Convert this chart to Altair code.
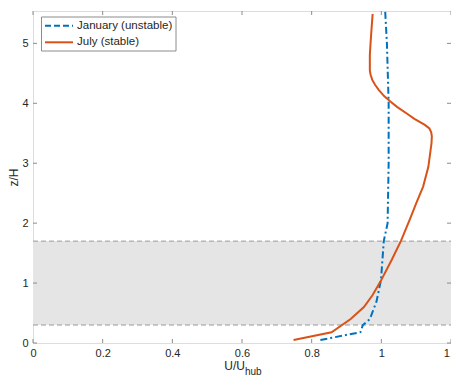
import altair as alt
import pandas as pd

# ---- data ----
jan_u = [0.825, 0.940, 0.947, 0.967, 0.986, 0.999, 1.007, 1.018, 1.021, 1.021, 1.016, 1.011]
jan_z = [0.05, 0.18, 0.30, 0.40, 0.69, 1.05, 1.70, 2.00, 3.00, 4.00, 5.00, 5.54]

jul_u = [0.748, 0.857, 0.912, 0.950, 0.975, 0.997, 1.030, 1.056, 1.083, 1.100, 1.120,
         1.135, 1.141, 1.144, 1.145, 1.143, 1.138, 1.125, 1.095, 1.073, 1.045, 1.026,
         1.008, 0.993, 0.982, 0.974, 0.969, 0.967, 0.967, 0.969, 0.972, 0.975]
jul_z = [0.05, 0.18, 0.40, 0.60, 0.80, 1.02, 1.39, 1.70, 2.08, 2.33, 2.61,
         2.94, 3.20, 3.33, 3.45, 3.52, 3.58, 3.64, 3.74, 3.83, 3.94, 4.03,
         4.12, 4.22, 4.31, 4.39, 4.48, 4.55, 4.80, 5.00, 5.25, 5.49]

series_names = ["January (unstable)", "July (stable)"]
series_colors = ["#0072BD", "#D95319"]

band_low, band_high = 0.3, 1.7
x_ticks = [0, 0.2, 0.4, 0.6, 0.8, 1.0, 1.2]
y_ticks = [0, 1, 2, 3, 4, 5]
x_domain = [0, 1.2]
y_domain = [0, 5.54]

W, H = 418, 332
FONT = "Liberation Sans"
AX = "#8c8c8c"
TXT = "#262626"

jan_df = pd.DataFrame({"u": jan_u, "z": jan_z, "i": range(len(jan_u))})
jul_df = pd.DataFrame({"u": jul_u, "z": jul_z, "i": range(len(jul_u))})

xs = alt.Scale(domain=x_domain, nice=False, zero=False)
ys = alt.Scale(domain=y_domain, nice=False, zero=False)

x_axis = alt.Axis(values=x_ticks, ticks=False, grid=False, domain=False, format=".1~f",
                  labelFont=FONT, labelFontSize=11, labelColor=TXT, labelPadding=4,
                  labelFlush=False, title=None)
y_axis = alt.Axis(values=y_ticks, ticks=False, grid=False, domain=False, format="d",
                  labelFont=FONT, labelFontSize=11, labelColor=TXT, labelPadding=5,
                  labelFlush=False, title="z/H", titleFont=FONT, titleFontSize=12,
                  titleFontWeight="normal", titleColor=TXT, titlePadding=1)

band_df = pd.DataFrame({"x0": [x_domain[0]], "x1": [x_domain[1]],
                        "lo": [band_low], "hi": [band_high]})
band = alt.Chart(band_df).mark_rect(color="#e5e5e5").encode(
    x=alt.X("x0:Q", scale=xs, axis=x_axis), x2="x1:Q",
    y=alt.Y("lo:Q", scale=ys, axis=y_axis), y2="hi:Q")

edge_df = pd.DataFrame({"z": [band_low, band_high]})
edges = alt.Chart(edge_df).mark_rule(color="#9a9a9a", strokeDash=[5, 3], strokeWidth=1).encode(
    y=alt.Y("z:Q", scale=ys), x=alt.value(0), x2=alt.value(W))

jan_line = alt.Chart(jan_df).mark_line(color=series_colors[0], strokeWidth=2,
                                       strokeDash=[7, 3, 2, 3], clip=True).encode(
    x=alt.X("u:Q", scale=xs), y=alt.Y("z:Q", scale=ys), order="i:Q")
jul_line = alt.Chart(jul_df).mark_line(color=series_colors[1], strokeWidth=2,
                                       clip=True).encode(
    x=alt.X("u:Q", scale=xs), y=alt.Y("z:Q", scale=ys), order="i:Q")

# inward ticks on all four sides
xt_df = pd.DataFrame({"t": x_ticks})
yt_df = pd.DataFrame({"t": y_ticks})
tk = dict(color=AX, strokeWidth=1)
xt_bot = alt.Chart(xt_df).mark_rule(**tk).encode(
    x=alt.X("t:Q", scale=xs), y=alt.value(H), y2=alt.value(H - 4))
xt_top = alt.Chart(xt_df).mark_rule(**tk).encode(
    x=alt.X("t:Q", scale=xs), y=alt.value(0), y2=alt.value(4))
yt_l = alt.Chart(yt_df).mark_rule(**tk).encode(
    y=alt.Y("t:Q", scale=ys), x=alt.value(0), x2=alt.value(4))
yt_r = alt.Chart(yt_df).mark_rule(**tk).encode(
    y=alt.Y("t:Q", scale=ys), x=alt.value(W - 4), x2=alt.value(W))

# x title with subscript
one = pd.DataFrame({"a": ["U/U"], "b": ["hub"]})
xt_main = alt.Chart(one).mark_text(font=FONT, fontSize=12, color=TXT, align="right",
                                   baseline="middle").encode(
    text="a:N", x=alt.value(212), y=alt.value(355))
xt_sub = alt.Chart(one).mark_text(font=FONT, fontSize=10, color=TXT, align="left",
                                  baseline="middle").encode(
    text="b:N", x=alt.value(212), y=alt.value(361))

# legend
leg_df = pd.DataFrame({"name": series_names, "color": series_colors,
                       "yy": [14.7, 31.3]})
leg_box = alt.Chart(pd.DataFrame({"k": [0]})).mark_rect(
    fill="white", stroke=AX, strokeWidth=1).encode(
    x=alt.value(8.5), x2=alt.value(143), y=alt.value(6), y2=alt.value(40))
leg_jan = alt.Chart(leg_df.iloc[[0]]).mark_rule(color=series_colors[0], strokeWidth=2,
                                                 strokeDash=[6, 3]).encode(
    x=alt.value(12), x2=alt.value(40), y=alt.Y("yy:Q", scale=None))
leg_jul = alt.Chart(leg_df.iloc[[1]]).mark_rule(color=series_colors[1], strokeWidth=2).encode(
    x=alt.value(12), x2=alt.value(40), y=alt.Y("yy:Q", scale=None))
leg_txt = alt.Chart(leg_df).mark_text(font=FONT, fontSize=11.5, color=TXT, align="left",
                                      baseline="middle").encode(
    text="name:N", x=alt.value(44), y=alt.Y("yy:Q", scale=None))

chart = alt.layer(band, edges, jan_line, jul_line, xt_bot, xt_top, yt_l, yt_r,
                  xt_main, xt_sub, leg_box, leg_jan, leg_jul, leg_txt).properties(
    width=W, height=H,
    autosize=alt.AutoSizeParams(type="none"),
    padding={"left": 25, "top": 3, "right": 0, "bottom": 33},
).configure_view(stroke=AX, strokeWidth=1).configure(background="white")

chart.save("out.html", embed_options={"renderer": "svg", "actions": False})
